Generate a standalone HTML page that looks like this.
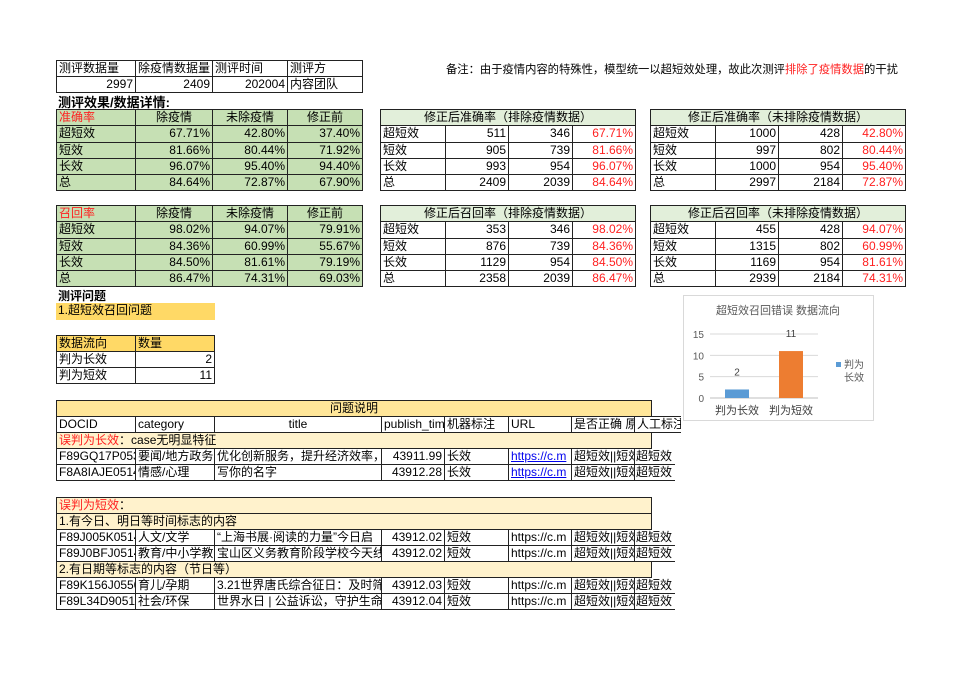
<!DOCTYPE html>
<html><head><meta charset="utf-8">
<style>
body{margin:0;width:960px;height:678px;background:#fff;position:relative;overflow:hidden;font-family:"Liberation Sans","Noto Sans CJK SC",sans-serif;font-size:12px;color:#000}
.c{position:absolute;box-sizing:border-box;border:1px solid #222;white-space:nowrap;overflow:hidden;line-height:15px;padding:0 2px;font-size:12px}
.t{position:absolute;white-space:nowrap;font-size:12px}
.r{text-align:right}.m{text-align:center}
.red{color:#ff2020}
</style></head><body>
<div class="t" style="left:446px;top:61px;font-size:11.3px">备注：由于疫情内容的特殊性，模型统一以超短效处理，故此次测评<span class="red">排除了疫情数据</span>的干扰</div>
<div class="t" style="left:58px;top:92px;font-weight:bold;font-size:13px">测评效果/数据详情:</div>
<div class="t" style="left:58px;top:287px;font-weight:bold">测评问题</div>
<div id="root"></div>
<svg id="chart" style="position:absolute;left:683px;top:295px" width="191" height="126"></svg>
<script>
const root=document.body;
function cell(x,y,w,h,txt,cls,bg,name){
  const d=document.createElement('div');
  d.className='c '+(cls||'');
  d.style.left=x+'px';d.style.top=y+'px';d.style.width=(w+1)+'px';d.style.height=(h+1)+'px';
  if(bg)d.style.background=bg;
  d.innerHTML=txt;
  
  
  root.appendChild(d);return d;
}
function grid(xs,ys,rows,opts){
  for(let r=0;r<rows.length;r++){
    for(let c=0;c<rows[r].length;c++){
      const v=rows[r][c];if(v===null)continue;
      let span=1;while(c+span<rows[r].length&&rows[r][c+span]===null)span++;
      const o=opts(r,c);
      cell(xs[c],ys[r],xs[c+span]-xs[c],ys[r+1]-ys[r],v,o.cls,o.bg,o.name);
    }
  }
}
grid([56,135,212,287,362],[60,76,92],[["测评数据量","除疫情数据量","测评时间","测评方"],["2997","2409","202004","内容团队"]],
 (r,c)=>({cls:(r==1&&c<3)?'r':'',name:r==0?'summary-header':'summary-value'}));
const G='#c6e0b4';
const accRows=[["准确率","除疫情","未除疫情","修正前"],["超短效","67.71%","42.80%","37.40%"],["短效","81.66%","80.44%","71.92%"],["长效","96.07%","95.40%","94.40%"],["总","84.64%","72.87%","67.90%"]];
const recRows=[["召回率","除疫情","未除疫情","修正前"],["超短效","98.02%","94.07%","79.91%"],["短效","84.36%","60.99%","55.67%"],["长效","84.50%","81.61%","79.19%"],["总","86.47%","74.31%","69.03%"]];
const ysA=[109,125,142,158,174,190],ysR=[205,221,238,254,270,286];
function leftTbl(rows,ys,nm){grid([56,135,212,287,362],ys,rows,(r,c)=>({cls:(r==0&&c==0)?'red':(r==0?'m':(c>0?'r':'')),bg:G,name:nm}));}
leftTbl(accRows,ysA,'accuracy-table-cell');leftTbl(recRows,ysR,'recall-table-cell');
function sideTbl(x0,ys,title,rows,nm){
  const xs=[x0,x0+65,x0+128,x0+192,x0+255];
  const all=[[title,null,null,null]].concat(rows);
  grid(xs,ys,all,(r,c)=>({cls:r==0?'m':(c==3?'r red':(c>0?'r':'')),bg:r==0?'#e2efda':'',name:nm}));
}
sideTbl(380,ysA,"修正后准确率（排除疫情数据）",[["超短效","511","346","67.71%"],["短效","905","739","81.66%"],["长效","993","954","96.07%"],["总","2409","2039","84.64%"]],'accuracy-excl-cell');
sideTbl(650,ysA,"修正后准确率（未排除疫情数据）",[["超短效","1000","428","42.80%"],["短效","997","802","80.44%"],["长效","1000","954","95.40%"],["总","2997","2184","72.87%"]],'accuracy-incl-cell');
sideTbl(380,ysR,"修正后召回率（排除疫情数据）",[["超短效","353","346","98.02%"],["短效","876","739","84.36%"],["长效","1129","954","84.50%"],["总","2358","2039","86.47%"]],'recall-excl-cell');
sideTbl(650,ysR,"修正后召回率（未排除疫情数据）",[["超短效","455","428","94.07%"],["短效","1315","802","60.99%"],["长效","1169","954","81.61%"],["总","2939","2184","74.31%"]],'recall-incl-cell');
cell(56,303,158,16,"1.超短效召回问题","",'#ffd966','issue-label').style.border='none';
grid([56,135,214],[335,351,367,383],[["数据流向","数量"],["判为长效","2"],["判为短效","11"]],(r,c)=>({cls:(r>0&&c==1)?'r':'',bg:r==0?'#ffd966':'',name:'flow-table-cell'}));
const xd=[56,135,214,381,444,508,571,634,651];
const Y='#ffe699',L='#fff2cc';
cell(56,400,595,16,"问题说明","m",Y,'detail-title');
const hdr=["DOCID","category","title","publish_time","机器标注","URL","是否正确 原","人工标注"];
hdr.forEach((h,i)=>{const w=(i==7?680:xd[i+1])-xd[i];const d=cell(xd[i],416,w,16,h,i==2?'m':'','','detail-header');if(i==7){d.style.borderRight='none';}});
cell(56,432,595,16,'<span class="red">误判为长效</span>：case无明显特征','',L,'group-row');
const longRows=[["F89GQ17P0534","要闻/地方政务","优化创新服务，提升经济效率，推动","43911.99","长效","https://c.m","超短效||短效","超短效"],["F8A8IAJE0514","情感/心理","写你的名字","43912.28","长效","https://c.m","超短效||短效","超短效"]];
function drows(rows,y0,link){rows.forEach((row,r)=>row.forEach((v,i)=>{const w=(i==7?40:xd[i+1]-xd[i]);const d=cell(xd[i],y0+16*r,w,16,v,i==3?'r':'','','detail-cell');if(i==5&&link){d.style.color='#0000ee';d.style.textDecoration='underline';}if(i==7){d.style.border='none';d.style.borderBottom='1px solid #222';d.style.paddingTop='1px';}}));}
drows(longRows,448,true);
cell(56,497,595,16,'<span class="red">误判为短效</span>：','',L,'group-row');
cell(56,513,595,16,'1.有今日、明日等时间标志的内容','',L,'group-row');
drows([["F89J005K0514","人文/文学","“上海书展·阅读的力量”今日启","43912.02","短效","https://c.m","超短效||短效","超短效"],["F89J0BFJ0514","教育/中小学教育","宝山区义务教育阶段学校今天线上","43912.02","短效","https://c.m","超短效||短效","超短效"]],529,false);
cell(56,561,595,16,'2.有日期等标志的内容（节日等）','',L,'group-row');
drows([["F89K156J0550","育儿/孕期","3.21世界唐氏综合征日：及时筛查","43912.03","短效","https://c.m","超短效||短效","超短效"],["F89L34D90514","社会/环保","世界水日 | 公益诉讼，守护生命之","43912.04","短效","https://c.m","超短效||短效","超短效"]],577,false);
</script>
<script>
const categories=["判为长效","判为短效"];
const values=[2,11];
const colors=["#5b9bd5","#ed7d31"];
const ticks=[0,5,10,15];
const svg=document.getElementById('chart');
const NS='http://www.w3.org/2000/svg';
function el(t,a){const e=document.createElementNS(NS,t);for(const k in a)e.setAttribute(k,a[k]);svg.appendChild(e);return e;}
const x0=27,x1=135,yb=103,yt=39,ymax=15;
const ys=v=>yb-(v/ymax)*(yb-yt);
const bw=(x1-x0)/categories.length;
let e=el('rect',{x:0.5,y:0.5,width:190,height:125,fill:'#fff',stroke:'#d9d9d9'});

e=el('text',{x:95,y:19,'text-anchor':'middle','font-size':11,fill:'#595959'});e.textContent='超短效召回错误 数据流向';

ticks.forEach(t=>{
  const g=el('line',{x1:x0,x2:x1,y1:ys(t),y2:ys(t),stroke:t==0?'#bfbfbf':'#d9d9d9'});
  
  const tx=el('text',{x:x0-6,y:ys(t)+4,'text-anchor':'end','font-size':10,fill:'#595959'});tx.textContent=t;
  
});
categories.forEach((c,i)=>{
  const cx=x0+bw*(i+0.5);
  const b=el('rect',{x:cx-12,y:ys(values[i]),width:24,height:yb-ys(values[i]),fill:colors[i]});
  
  const v=el('text',{x:cx,y:ys(values[i])-14,'text-anchor':'middle','font-size':10,fill:'#404040'});v.textContent=values[i];
  
  const l=el('text',{x:cx,y:yb+16,'text-anchor':'middle','font-size':11,fill:'#404040'});l.textContent=c;
  
});
e=el('rect',{x:153,y:67,width:5,height:5,fill:colors[0]});

e=el('text',{x:161,y:73,'font-size':10,fill:'#595959'});e.textContent='判为';

e=el('text',{x:161,y:86,'font-size':10,fill:'#595959'});e.textContent='长效';

</script>
</body></html>
